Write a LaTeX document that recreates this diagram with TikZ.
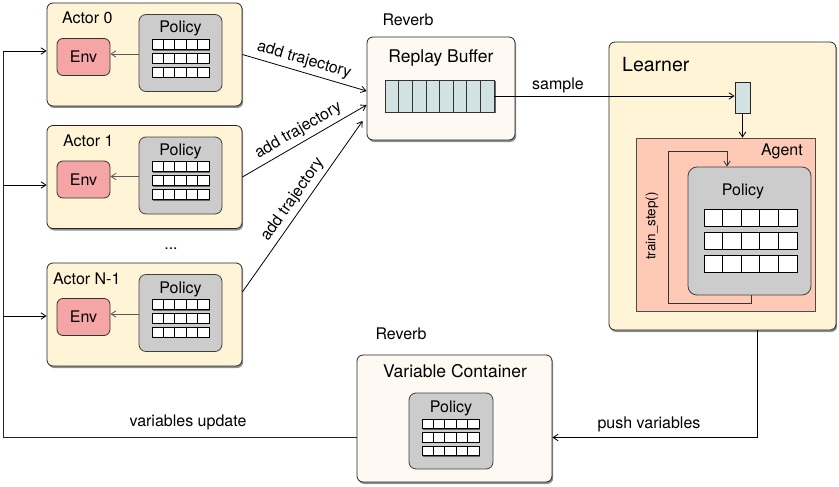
\documentclass[tikz,border=0pt]{standalone}
\usepackage{fontspec}
\setmainfont{TeX Gyre Heros}
\usetikzlibrary{arrows.meta,shadows,calc}
\definecolor{cream}{HTML}{FFF4D6}
\definecolor{offwhite}{HTML}{FEF9F3}
\definecolor{envpink}{HTML}{F5A5A5}
\definecolor{polgray}{HTML}{CCCCCC}
\definecolor{agentsalmon}{HTML}{FECAB6}
\definecolor{cellteal}{HTML}{D2E2E2}
\newcommand\fs[1]{\fontsize{#1}{#1}\selectfont}
\tikzset{
  every node/.style={font=\fs{16}, inner sep=0pt},
  shad/.style={drop shadow={shadow xshift=1.2pt,shadow yshift=-2pt,opacity=0.55,fill=black!80}},
  bigbox/.style={draw=black!85, line width=0.8pt, rounded corners=6pt, shad},
  actorbox/.style={bigbox, fill=cream, minimum width=195pt, minimum height=103pt},
  envbox/.style={draw=black!80, line width=0.8pt, fill=envpink, rounded corners=6pt, minimum width=53pt, minimum height=37pt},
  polbox/.style={draw=black!75, line width=0.8pt, fill=polgray, rounded corners=7pt},
  conn/.style={draw=black, line width=0.8pt},
  envarrow/.style={draw=black!65, line width=0.8pt},
}
\newcommand\polgrid[5]{%
  \foreach \r in {0,1,2}{
    \fill[black!60] ({#1+1},{#2+#5*\r+1.3}) rectangle ++({5*#3},#4);
    \foreach \c in {0,...,4}{
      \draw[black, line width=0.7pt, fill=white] ({#1+\c*#3},{#2+#5*\r}) rectangle ++(#3,#4);
    }
  }}
\newcommand\actorunit[4]{%
  \node[actorbox] (#1) at (144.5,{#2+51.5}) {};
  \node[envbox] (#1env) at (83.5,{#2+54}) {Env};
  \node[polbox, minimum width=83pt, minimum height=77pt] (#1pol) at (180.5,{#2+50}) {};
  \node[anchor=base] (#1pollbl) at (180.5,{#2+30}) {Policy};
  \node[anchor=base west] (#1lbl) at (#4,{#2+21}) {#3};
  \polgrid{152}{#2+36.3}{11.4}{10}{13.8}
  \coordinate (#1ea) at ($(#1env.east)+(0,-3)$);
  \draw[envarrow,->] (#1pol.west |- #1ea) -- (#1ea);
}
\begin{document}
\begin{tikzpicture}[x=1pt,y=-1pt, >={Straight Barb[length=5pt,width=6.5pt]}]
\useasboundingbox (0,0) rectangle (839,487);
% actors
\actorunit{a0}{3}{Actor 0}{62}
\actorunit{a1}{125.5}{Actor 1}{63}
\actorunit{a2}{263}{Actor N-1}{53}
\node[anchor=base] (dots) at (171,249) {...};
% replay buffer
\node[bigbox, fill=offwhite, minimum width=148pt, minimum height=103pt] (rb) at (441,88.5) {};
\node[anchor=base, font=\fs{17.5}] (rblbl) at (441,63) {Replay Buffer};
\node[minimum width=109pt, minimum height=32pt] (buf) at (439.5,96) {};
\fill[black!60] (386.5,81.5) rectangle (495.5,113.5);
\foreach \i in {0,...,7}{\draw[fill=cellteal, draw=black!80, line width=0.7pt] ({385+13.625*\i},80) rectangle ++(13.625,32);}
\node[anchor=base] (rev1) at (408,26) {Reverb};
% learner
\node[bigbox, fill=cream, minimum width=227pt, minimum height=288pt] (learner) at (722.5,186) {};
\node[anchor=base west, font=\fs{19.5}] (llbl) at (622,72) {Learner};
\node[draw=black!85, line width=0.8pt, fill=cellteal, minimum width=15pt, minimum height=31pt, drop shadow={shadow xshift=1pt,shadow yshift=-1.5pt,opacity=0.8,fill=black}] (cell) at (742.5,97.5) {};
\node[draw=black!70, line width=0.7pt, fill=agentsalmon, minimum width=179pt, minimum height=173pt] (agent) at (725.5,224.5) {};
\node[anchor=base east] (aglbl) at (803,155) {Agent};
\node[polbox, minimum width=123pt, minimum height=128pt, rounded corners=9pt] (lpol) at (749.5,231) {};
\node[anchor=base] (lpollbl) at (743,195) {Policy};
\polgrid{704}{209}{18.6}{17}{23}
\node[rotate=90, font=\fs{13.5}] (tslbl) at (652,226) {train\_step()};
\coordinate (lp1) at (751,303);
\coordinate (lp2) at (668,303);
\coordinate (lp3) at (668,151);
\coordinate (lp4) at (727,151);
\draw[conn, draw=black!80, ->] (lpol.south -| lp1) -- (lp1) -- (lp2) -- (lp3) -- (lp4) -- (lpol.north -| lp4);
\draw[conn, ->] (cell.south) -- (agent.north -| cell.south);
% variable container
\node[bigbox, fill=offwhite, minimum width=195pt, minimum height=127pt] (vc) at (454.5,418.5) {};
\node[anchor=base, font=\fs{17.5}] (vclbl) at (455,377) {Variable Container};
\node[polbox, minimum width=84pt, minimum height=76pt] (vcpol) at (451,431) {};
\node[anchor=base] (vcpollbl) at (451,412) {Policy};
\polgrid{422}{419}{11.4}{9.5}{13.5}
\node[anchor=base] (rev2) at (401,339) {Reverb};
% sample
\draw[conn, ->] (buf.east) -- (cell.west |- buf.east);
\node[anchor=base] (samplbl) at (558,89) {sample};
% add trajectory
\coordinate (rb1) at ($(rb.west)+(0,2.5)$);
\coordinate (rb2) at ($(rb.west)+(0,16.5)$);
\coordinate (rb3) at ($(rb.west)+(-4,32.5)$);
\coordinate (a2s) at ($(a2.east)+(0,-22.5)$);
\draw[conn, ->] (a0.east) -- node[sloped, above=4pt, pos=0.47] (t1) {add trajectory} (rb1);
\draw[conn, ->] (a1.east) -- node[sloped, above=4pt, pos=0.5] (t2) {add trajectory} (rb2);
\draw[conn, ->] (a2s) -- node[sloped, above=4pt, pos=0.5] (t3) {add trajectory} (rb3);
% feedback
\coordinate (fbbot) at (3,437.5);
\coordinate (fbtop) at (3,51);
\coordinate (fb1) at (3,185);
\coordinate (fb2) at (3,316);
\draw[conn, draw=black!85] (vc.west |- fbbot) -- (fbbot) -- (fbtop);
\draw[conn, ->] (fbtop) -- (a0.west |- fbtop);
\draw[conn, ->] (fb1) -- (a1.west |- fb1);
\draw[conn, ->] (fb2) -- (a2.west |- fb2);
\node[anchor=base] (vulbl) at (188,426) {variables update};
% push
\coordinate (pushc) at (757,437.5);
\draw[conn, ->] (learner.south -| pushc) -- (pushc) -- (vc.east |- pushc);
\node[anchor=base] (pvlbl) at (649,428) {push variables};
\end{tikzpicture}
\end{document}
